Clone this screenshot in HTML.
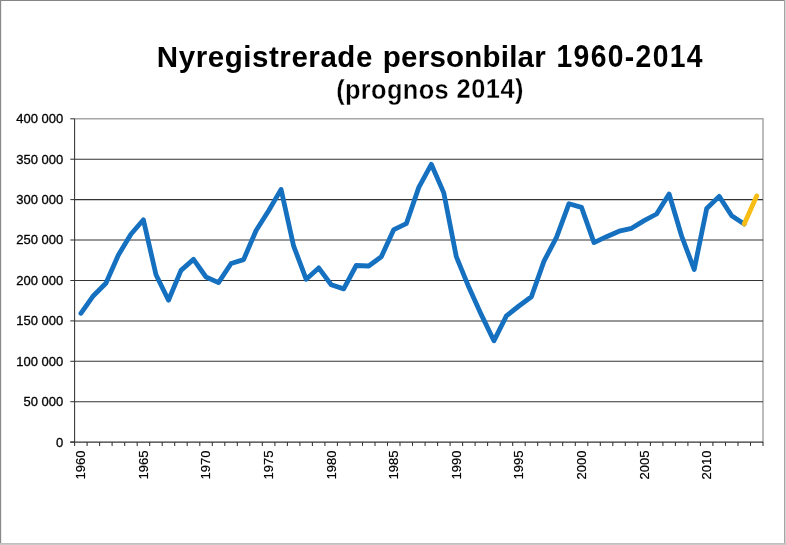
<!DOCTYPE html>
<html><head><meta charset="utf-8"><title>Nyregistrerade personbilar 1960-2014</title>
<style>
html,body{margin:0;padding:0;background:#fff;}
svg{display:block;}
text{font-family:"Liberation Sans",Arial,sans-serif;fill:#000;}
</style></head><body>
<svg width="786" height="545" viewBox="0 0 786 545">
<rect x="0" y="0" width="786" height="545" fill="#ffffff"/>
<!-- outer border -->
<rect x="0" y="0" width="786" height="1" fill="#858585"/>
<rect x="0" y="0" width="1" height="545" fill="#8a8a8a"/>
<rect x="1" y="1" width="1" height="542" fill="#ebebeb"/>
<rect x="784" y="0" width="1" height="545" fill="#a4a4a4"/>
<rect x="785" y="0" width="1" height="545" fill="#d6d6d6"/>
<rect x="0" y="543" width="786" height="1" fill="#c0c0c0"/>
<rect x="0" y="544" width="786" height="1" fill="#c8c8c8"/>
<text transform="translate(156.84,66.60) scale(1,1.020)" font-size="29.50" font-weight="bold" letter-spacing="0.566" >Nyregistrerade</text>
<text transform="translate(382.83,66.60) scale(1,1.020)" font-size="29.50" font-weight="bold" letter-spacing="0.233" >personbilar</text>
<text transform="translate(556.55,66.70) scale(1,1.120)" font-size="28.30" font-weight="bold" letter-spacing="1.339" >1960-2014</text>
<text transform="translate(336.16,98.50) scale(1,1.065)" font-size="25.40" font-weight="bold" letter-spacing="0.357" stroke="#fff" stroke-width="0.30">(prognos</text>
<text transform="translate(456.59,98.40) scale(1,1.065)" font-size="25.40" font-weight="bold" letter-spacing="0.514" stroke="#fff" stroke-width="0.30">2014)</text>
<polyline points="74.6,118.8 763.0,118.8 763.0,442.6" fill="none" stroke="#a6a6a6" stroke-width="1.5"/>
<line x1="74.6" y1="401.7" x2="763.0" y2="401.7" stroke="#333" stroke-width="1.05"/>
<line x1="74.6" y1="361.3" x2="763.0" y2="361.3" stroke="#333" stroke-width="1.05"/>
<line x1="74.6" y1="320.9" x2="763.0" y2="320.9" stroke="#333" stroke-width="1.05"/>
<line x1="74.6" y1="280.5" x2="763.0" y2="280.5" stroke="#333" stroke-width="1.05"/>
<line x1="74.6" y1="240.0" x2="763.0" y2="240.0" stroke="#333" stroke-width="1.05"/>
<line x1="74.6" y1="199.6" x2="763.0" y2="199.6" stroke="#333" stroke-width="1.05"/>
<line x1="74.6" y1="159.2" x2="763.0" y2="159.2" stroke="#333" stroke-width="1.05"/>
<line x1="74.6" y1="118.8" x2="74.6" y2="442.1" stroke="#333" stroke-width="1.05"/>
<line x1="70.3" y1="442.1" x2="763.0" y2="442.1" stroke="#333" stroke-width="1.05"/>
<line x1="70.3" y1="442.1" x2="74.6" y2="442.1" stroke="#333" stroke-width="1.05"/>
<text x="63.2" y="446.5" text-anchor="end" font-size="13" stroke="#000" stroke-width="0.3">0</text>
<line x1="70.3" y1="401.7" x2="74.6" y2="401.7" stroke="#333" stroke-width="1.05"/>
<text x="63.2" y="406.1" text-anchor="end" font-size="13" stroke="#000" stroke-width="0.3">50 000</text>
<line x1="70.3" y1="361.3" x2="74.6" y2="361.3" stroke="#333" stroke-width="1.05"/>
<text x="63.2" y="365.7" text-anchor="end" font-size="13" stroke="#000" stroke-width="0.3">100 000</text>
<line x1="70.3" y1="320.9" x2="74.6" y2="320.9" stroke="#333" stroke-width="1.05"/>
<text x="63.2" y="325.3" text-anchor="end" font-size="13" stroke="#000" stroke-width="0.3">150 000</text>
<line x1="70.3" y1="280.5" x2="74.6" y2="280.5" stroke="#333" stroke-width="1.05"/>
<text x="63.2" y="284.9" text-anchor="end" font-size="13" stroke="#000" stroke-width="0.3">200 000</text>
<line x1="70.3" y1="240.0" x2="74.6" y2="240.0" stroke="#333" stroke-width="1.05"/>
<text x="63.2" y="244.4" text-anchor="end" font-size="13" stroke="#000" stroke-width="0.3">250 000</text>
<line x1="70.3" y1="199.6" x2="74.6" y2="199.6" stroke="#333" stroke-width="1.05"/>
<text x="63.2" y="204.0" text-anchor="end" font-size="13" stroke="#000" stroke-width="0.3">300 000</text>
<line x1="70.3" y1="159.2" x2="74.6" y2="159.2" stroke="#333" stroke-width="1.05"/>
<text x="63.2" y="163.6" text-anchor="end" font-size="13" stroke="#000" stroke-width="0.3">350 000</text>
<line x1="70.3" y1="118.8" x2="74.6" y2="118.8" stroke="#333" stroke-width="1.05"/>
<text x="63.2" y="123.2" text-anchor="end" font-size="13" stroke="#000" stroke-width="0.3">400 000</text>
<line x1="74.6" y1="442.1" x2="74.6" y2="445.9" stroke="#333" stroke-width="1.05"/>
<line x1="87.1" y1="442.1" x2="87.1" y2="445.9" stroke="#333" stroke-width="1.05"/>
<line x1="99.6" y1="442.1" x2="99.6" y2="445.9" stroke="#333" stroke-width="1.05"/>
<line x1="112.1" y1="442.1" x2="112.1" y2="445.9" stroke="#333" stroke-width="1.05"/>
<line x1="124.7" y1="442.1" x2="124.7" y2="445.9" stroke="#333" stroke-width="1.05"/>
<line x1="137.2" y1="442.1" x2="137.2" y2="445.9" stroke="#333" stroke-width="1.05"/>
<line x1="149.7" y1="442.1" x2="149.7" y2="445.9" stroke="#333" stroke-width="1.05"/>
<line x1="162.2" y1="442.1" x2="162.2" y2="445.9" stroke="#333" stroke-width="1.05"/>
<line x1="174.7" y1="442.1" x2="174.7" y2="445.9" stroke="#333" stroke-width="1.05"/>
<line x1="187.2" y1="442.1" x2="187.2" y2="445.9" stroke="#333" stroke-width="1.05"/>
<line x1="199.8" y1="442.1" x2="199.8" y2="445.9" stroke="#333" stroke-width="1.05"/>
<line x1="212.3" y1="442.1" x2="212.3" y2="445.9" stroke="#333" stroke-width="1.05"/>
<line x1="224.8" y1="442.1" x2="224.8" y2="445.9" stroke="#333" stroke-width="1.05"/>
<line x1="237.3" y1="442.1" x2="237.3" y2="445.9" stroke="#333" stroke-width="1.05"/>
<line x1="249.8" y1="442.1" x2="249.8" y2="445.9" stroke="#333" stroke-width="1.05"/>
<line x1="262.3" y1="442.1" x2="262.3" y2="445.9" stroke="#333" stroke-width="1.05"/>
<line x1="274.9" y1="442.1" x2="274.9" y2="445.9" stroke="#333" stroke-width="1.05"/>
<line x1="287.4" y1="442.1" x2="287.4" y2="445.9" stroke="#333" stroke-width="1.05"/>
<line x1="299.9" y1="442.1" x2="299.9" y2="445.9" stroke="#333" stroke-width="1.05"/>
<line x1="312.4" y1="442.1" x2="312.4" y2="445.9" stroke="#333" stroke-width="1.05"/>
<line x1="324.9" y1="442.1" x2="324.9" y2="445.9" stroke="#333" stroke-width="1.05"/>
<line x1="337.4" y1="442.1" x2="337.4" y2="445.9" stroke="#333" stroke-width="1.05"/>
<line x1="350.0" y1="442.1" x2="350.0" y2="445.9" stroke="#333" stroke-width="1.05"/>
<line x1="362.5" y1="442.1" x2="362.5" y2="445.9" stroke="#333" stroke-width="1.05"/>
<line x1="375.0" y1="442.1" x2="375.0" y2="445.9" stroke="#333" stroke-width="1.05"/>
<line x1="387.5" y1="442.1" x2="387.5" y2="445.9" stroke="#333" stroke-width="1.05"/>
<line x1="400.0" y1="442.1" x2="400.0" y2="445.9" stroke="#333" stroke-width="1.05"/>
<line x1="412.5" y1="442.1" x2="412.5" y2="445.9" stroke="#333" stroke-width="1.05"/>
<line x1="425.1" y1="442.1" x2="425.1" y2="445.9" stroke="#333" stroke-width="1.05"/>
<line x1="437.6" y1="442.1" x2="437.6" y2="445.9" stroke="#333" stroke-width="1.05"/>
<line x1="450.1" y1="442.1" x2="450.1" y2="445.9" stroke="#333" stroke-width="1.05"/>
<line x1="462.6" y1="442.1" x2="462.6" y2="445.9" stroke="#333" stroke-width="1.05"/>
<line x1="475.1" y1="442.1" x2="475.1" y2="445.9" stroke="#333" stroke-width="1.05"/>
<line x1="487.6" y1="442.1" x2="487.6" y2="445.9" stroke="#333" stroke-width="1.05"/>
<line x1="500.2" y1="442.1" x2="500.2" y2="445.9" stroke="#333" stroke-width="1.05"/>
<line x1="512.7" y1="442.1" x2="512.7" y2="445.9" stroke="#333" stroke-width="1.05"/>
<line x1="525.2" y1="442.1" x2="525.2" y2="445.9" stroke="#333" stroke-width="1.05"/>
<line x1="537.7" y1="442.1" x2="537.7" y2="445.9" stroke="#333" stroke-width="1.05"/>
<line x1="550.2" y1="442.1" x2="550.2" y2="445.9" stroke="#333" stroke-width="1.05"/>
<line x1="562.7" y1="442.1" x2="562.7" y2="445.9" stroke="#333" stroke-width="1.05"/>
<line x1="575.3" y1="442.1" x2="575.3" y2="445.9" stroke="#333" stroke-width="1.05"/>
<line x1="587.8" y1="442.1" x2="587.8" y2="445.9" stroke="#333" stroke-width="1.05"/>
<line x1="600.3" y1="442.1" x2="600.3" y2="445.9" stroke="#333" stroke-width="1.05"/>
<line x1="612.8" y1="442.1" x2="612.8" y2="445.9" stroke="#333" stroke-width="1.05"/>
<line x1="625.3" y1="442.1" x2="625.3" y2="445.9" stroke="#333" stroke-width="1.05"/>
<line x1="637.8" y1="442.1" x2="637.8" y2="445.9" stroke="#333" stroke-width="1.05"/>
<line x1="650.4" y1="442.1" x2="650.4" y2="445.9" stroke="#333" stroke-width="1.05"/>
<line x1="662.9" y1="442.1" x2="662.9" y2="445.9" stroke="#333" stroke-width="1.05"/>
<line x1="675.4" y1="442.1" x2="675.4" y2="445.9" stroke="#333" stroke-width="1.05"/>
<line x1="687.9" y1="442.1" x2="687.9" y2="445.9" stroke="#333" stroke-width="1.05"/>
<line x1="700.4" y1="442.1" x2="700.4" y2="445.9" stroke="#333" stroke-width="1.05"/>
<line x1="712.9" y1="442.1" x2="712.9" y2="445.9" stroke="#333" stroke-width="1.05"/>
<line x1="725.5" y1="442.1" x2="725.5" y2="445.9" stroke="#333" stroke-width="1.05"/>
<line x1="738.0" y1="442.1" x2="738.0" y2="445.9" stroke="#333" stroke-width="1.05"/>
<line x1="750.5" y1="442.1" x2="750.5" y2="445.9" stroke="#333" stroke-width="1.05"/>
<line x1="763.0" y1="442.1" x2="763.0" y2="445.9" stroke="#333" stroke-width="1.05"/>
<text transform="translate(85.3,450.6) rotate(-90)" text-anchor="end" font-size="13" stroke="#000" stroke-width="0.2">1960</text>
<text transform="translate(147.8,450.6) rotate(-90)" text-anchor="end" font-size="13" stroke="#000" stroke-width="0.2">1965</text>
<text transform="translate(210.4,450.6) rotate(-90)" text-anchor="end" font-size="13" stroke="#000" stroke-width="0.2">1970</text>
<text transform="translate(273.0,450.6) rotate(-90)" text-anchor="end" font-size="13" stroke="#000" stroke-width="0.2">1975</text>
<text transform="translate(335.6,450.6) rotate(-90)" text-anchor="end" font-size="13" stroke="#000" stroke-width="0.2">1980</text>
<text transform="translate(398.2,450.6) rotate(-90)" text-anchor="end" font-size="13" stroke="#000" stroke-width="0.2">1985</text>
<text transform="translate(460.7,450.6) rotate(-90)" text-anchor="end" font-size="13" stroke="#000" stroke-width="0.2">1990</text>
<text transform="translate(523.3,450.6) rotate(-90)" text-anchor="end" font-size="13" stroke="#000" stroke-width="0.2">1995</text>
<text transform="translate(585.9,450.6) rotate(-90)" text-anchor="end" font-size="13" stroke="#000" stroke-width="0.2">2000</text>
<text transform="translate(648.5,450.6) rotate(-90)" text-anchor="end" font-size="13" stroke="#000" stroke-width="0.2">2005</text>
<text transform="translate(711.1,450.6) rotate(-90)" text-anchor="end" font-size="13" stroke="#000" stroke-width="0.2">2010</text>
<polyline points="80.9,313.3 93.4,295.7 105.9,283.2 118.4,255.0 130.9,234.2 143.4,219.8 156.0,274.8 168.5,300.2 181.0,270.4 193.5,259.4 206.0,277.0 218.5,282.6 231.1,263.5 243.6,259.6 256.1,230.5 268.6,210.8 281.1,189.4 293.6,245.9 306.2,279.3 318.7,267.9 331.2,284.8 343.7,288.9 356.2,265.5 368.7,266.0 381.3,256.8 393.8,229.6 406.3,223.7 418.8,187.4 431.3,164.3 443.8,192.9 456.3,256.6 468.9,287.3 481.4,314.9 493.9,340.8 506.4,315.9 518.9,306.0 531.4,296.8 544.0,261.1 556.5,237.4 569.0,203.7 581.5,207.4 594.0,242.6 606.5,236.7 619.1,231.2 631.6,228.3 644.1,220.6 656.6,214.0 669.1,194.0 681.6,236.0 694.2,269.5 706.7,208.5 719.2,196.4 731.7,215.8 744.2,223.9" fill="none" stroke="#1570C0" stroke-width="4.8" stroke-linejoin="round" stroke-linecap="round"/>
<polyline points="744.2,223.9 756.7,196.0" fill="none" stroke="#F8BD14" stroke-width="4.8" stroke-linejoin="round" stroke-linecap="round"/>
</svg>
</body></html>
